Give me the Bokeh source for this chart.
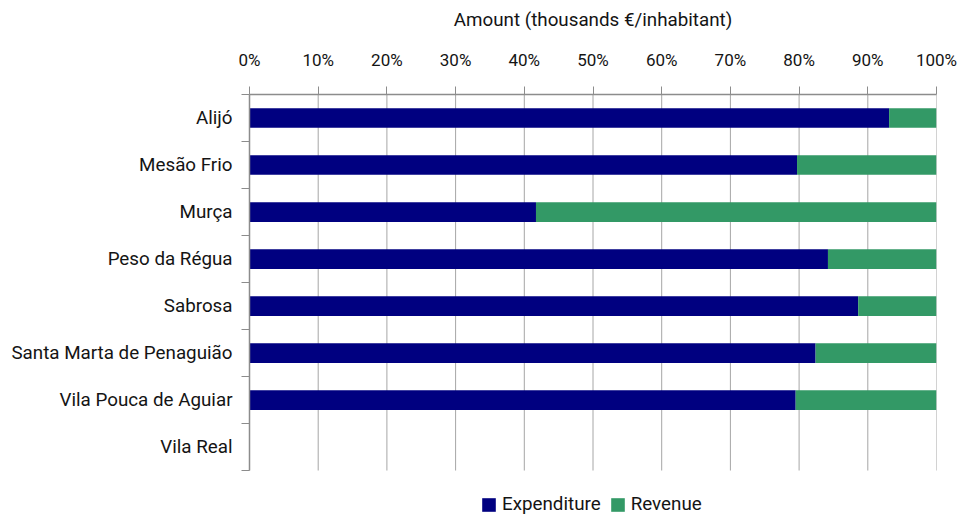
from bokeh.plotting import figure
from bokeh.models import (Range1d, FixedTicker, PrintfTickFormatter, Legend, LegendItem,
                          ColumnDataSource)
from bokeh.embed import file_html
from bokeh.resources import INLINE

categories = ["Alijó", "Mesão Frio", "Murça", "Peso da Régua", "Sabrosa",
              "Santa Marta de Penaguião", "Vila Pouca de Aguiar", "Vila Real"]
expenditure = [93.1, 79.7, 41.7, 84.2, 88.6, 82.4, 79.5, 0.0]
revenue = [6.9, 20.3, 58.3, 15.8, 11.4, 17.6, 20.5, 0.0]
x_ticks = [0, 10, 20, 30, 40, 50, 60, 70, 80, 90, 100]

FONT = "Roboto"
TXT = "#141414"
NAVY = "#000080"
GREEN = "#339966"
GRID = "#a6a6a6"
AXIS = "#8c8c8c"

n = len(categories)
ypos = [i + 0.5 for i in range(n)]
src = ColumnDataSource(dict(y=ypos, cat=categories, Expenditure=expenditure, Revenue=revenue))

# extra room below the categories holds the legend
p = figure(width=961, height=515, output_backend="svg", toolbar_location=None,
           x_range=Range1d(0, 100), y_range=Range1d(n + 0.957, 0),
           x_axis_location="above",
           min_border_left=249, min_border_right=25, min_border_top=94, min_border_bottom=0)
p.outline_line_color = None
p.xgrid.grid_line_color = None
p.ygrid.grid_line_color = None

# vertical gridlines spanning the category area only
p.segment(x0=x_ticks, y0=[0] * len(x_ticks), x1=x_ticks, y1=[n] * len(x_ticks),
          line_color=GRID, line_width=1)

rs = p.hbar_stack(["Expenditure", "Revenue"], y="y", height=0.42, color=[NAVY, GREEN],
                  line_color=None, source=src)

# x axis (top)
xa = p.xaxis[0]
xa.ticker = FixedTicker(ticks=x_ticks, minor_ticks=[])
xa.formatter = PrintfTickFormatter(format="%d%%")
xa.axis_label = "Amount (thousands €/inhabitant)"
xa.axis_label_text_font = FONT
xa.axis_label_text_font_size = "18.8px"
xa.axis_label_text_font_style = "normal"
xa.axis_label_text_color = TXT
xa.axis_label_standoff = 16
xa.major_label_text_font = FONT
xa.major_label_text_font_size = "17px"
xa.major_label_text_color = TXT
xa.major_label_standoff = 17
xa.major_tick_out = 8
xa.major_tick_in = 0
xa.major_tick_line_color = AXIS
xa.axis_line_color = AXIS
xa.axis_line_width = 1.5

# y axis (left): labels at category centers, ticks at category boundaries
ya = p.yaxis[0]
ya.bounds = (0, n)
ya.ticker = FixedTicker(ticks=ypos, minor_ticks=list(range(n + 1)))
ya.major_label_overrides = {yv: c for yv, c in zip(ypos, categories)}
ya.major_tick_out = 0
ya.major_tick_in = 0
ya.minor_tick_out = 8
ya.minor_tick_in = 0
ya.minor_tick_line_color = AXIS
ya.axis_line_color = AXIS
ya.axis_line_width = 1.5
ya.major_label_standoff = 9
ya.major_label_text_font = FONT
ya.major_label_text_font_size = "18.8px"
ya.major_label_text_color = TXT

legend = Legend(items=[LegendItem(label="Expenditure", renderers=[rs[0]]),
                       LegendItem(label="Revenue", renderers=[rs[1]])],
                location=(231, 0), orientation="horizontal",
                glyph_width=17, glyph_height=17, label_standoff=5, spacing=8,
                padding=0, margin=0, border_line_color=None, background_fill_alpha=0,
                label_text_font=FONT, label_text_font_size="18.8px", label_text_color=TXT,
                label_height=17)
p.add_layout(legend, "center")

open("out.html", "w").write(file_html(p, INLINE))
